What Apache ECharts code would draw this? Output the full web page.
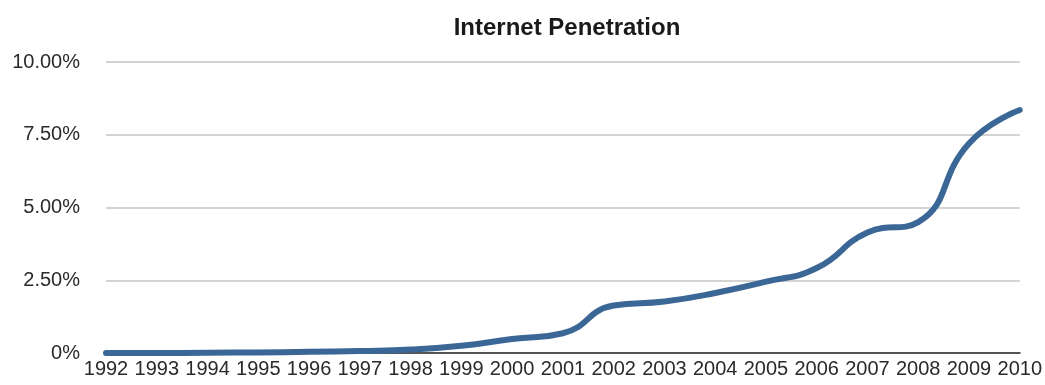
<!DOCTYPE html>
<html>
<head>
<meta charset="utf-8">
<title>Internet Penetration</title>
<script src="https://cdn.jsdelivr.net/npm/echarts@6/dist/echarts.min.js"></script>
<style>
  html, body { margin: 0; padding: 0; background: #ffffff; }
  #chart { width: 1045px; height: 385px; }
</style>
</head>
<body>
<div id="chart"></div>
<script>
// Years on the category axis
const years = ['1992','1993','1994','1995','1996','1997','1998','1999','2000','2001',
               '2002','2003','2004','2005','2006','2007','2008','2009','2010'];

// Internet penetration, in percent
const penetration = [0, 0, 0.01, 0.02, 0.04, 0.07, 0.12, 0.25, 0.48, 0.68,
                     1.63, 1.77, 2.06, 2.45, 2.92, 4.14, 4.5, 7.2, 8.35];

// Value-axis ticks and their labels
const yTicks = [0, 2.5, 5, 7.5, 10];
const yTickLabels = ['0%', '2.50%', '5.00%', '7.50%', '10.00%'];

const chart = echarts.init(document.getElementById('chart'), null, { renderer: 'canvas' });

chart.setOption({
  backgroundColor: '#ffffff',
  animation: false,
  title: {
    text: 'Internet Penetration',
    left: 562,
    textAlign: 'center',
    top: 11,
    textStyle: {
      fontFamily: 'Liberation Sans, Arial, sans-serif',
      fontWeight: 'bold',
      fontSize: 24,
      color: '#1a1a1a'
    }
  },
  grid: { left: 106, right: 23, top: 62, bottom: 32, containLabel: false },
  xAxis: {
    type: 'category',
    data: years,
    boundaryGap: false,
    axisLine: { show: true, lineStyle: { color: '#555555', width: 2 } },
    axisTick: { show: false },
    splitLine: { show: false },
    axisLabel: {
      interval: 0,
      margin: 6,
      fontFamily: 'Liberation Sans, Arial, sans-serif',
      fontSize: 20,
      color: '#2a2a2a'
    }
  },
  yAxis: {
    type: 'value',
    min: yTicks[0],
    max: yTicks[yTicks.length - 1],
    interval: 2.5,
    axisLine: { show: false },
    axisTick: { show: false },
    splitLine: { show: true, lineStyle: { color: '#c4c4c4', width: 1.5 } },
    axisLabel: {
      margin: 26,
      fontFamily: 'Liberation Sans, Arial, sans-serif',
      fontSize: 20,
      color: '#2a2a2a',
      formatter: function (v) {
        const i = yTicks.indexOf(v);
        return i >= 0 ? yTickLabels[i] : '';
      }
    }
  },
  series: [{
    type: 'line',
    data: penetration,
    smooth: 0.5,
    symbol: 'none',
    lineStyle: { color: '#3b6796', width: 6, cap: 'round', join: 'round' },
    z: 3
  }]
});
</script>
</body>
</html>
